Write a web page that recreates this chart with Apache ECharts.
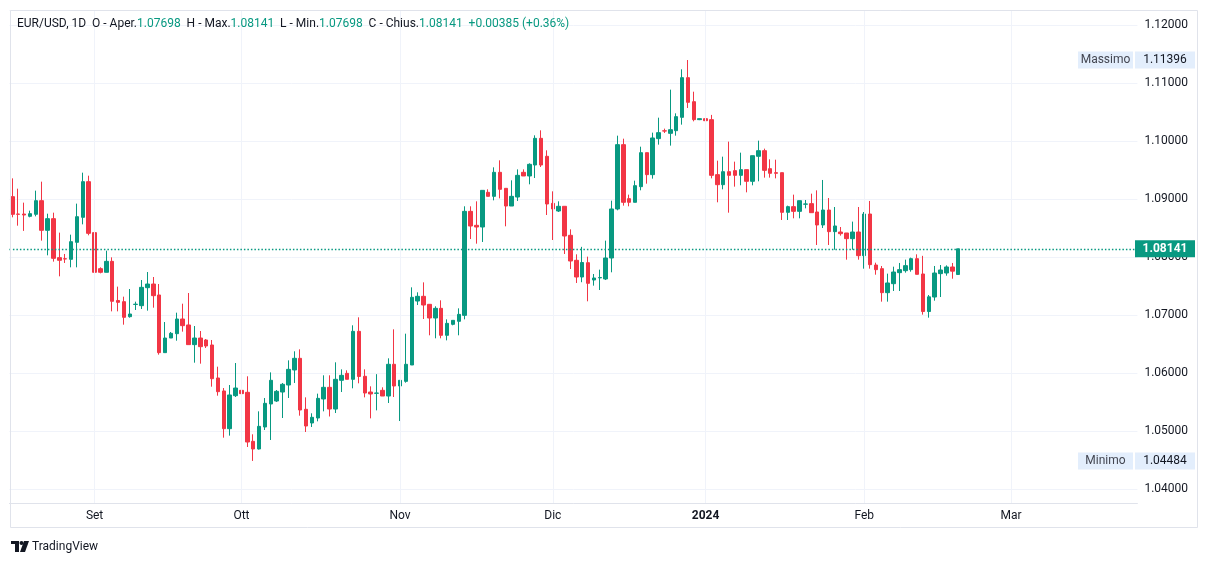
<!DOCTYPE html>
<html>
<head>
<meta charset="utf-8">
<title>EUR/USD 1D</title>
<script src="https://cdn.jsdelivr.net/npm/echarts@6/dist/echarts.min.js"></script>
<style>
  html, body { margin: 0; padding: 0; background: #fff; }
  #chart { width: 1209px; height: 564px; }
</style>
</head>
<body>
<div id="chart"></div>
<script>
// barre giornaliere (dom-ven, niente sabato) a partire dal 16 ago 2023
var firstDay = [2023, 7, 16];
var barCount = 192;
var monthNames = ['Gen', 'Feb', 'Mar', 'Apr', 'Mag', 'Giu', 'Lug', 'Ago', 'Set', 'Ott', 'Nov', 'Dic'];

var openVals = [
  1.0904, 1.08741, 1.08741, 1.08701, 1.08736, 1.08971, 1.0846, 1.08661, 1.07989, 1.0797,
  1.0796, 1.08253, 1.08684, 1.09299, 1.0842, 1.07799, 1.07736, 1.07925, 1.0725, 1.0723,
  1.06971, 1.07182, 1.07161, 1.07471, 1.07534, 1.07345, 1.06351, 1.06603, 1.06678, 1.06931,
  1.06828, 1.06489, 1.06603, 1.06569, 1.06483, 1.05914, 1.0569, 1.0504, 1.05609, 1.05701,
  1.05667, 1.04822, 1.0469, 1.05069, 1.05466, 1.05517, 1.05672, 1.05793, 1.06052, 1.06253,
  1.05374, 1.05138, 1.05224, 1.05552, 1.05753, 1.05379, 1.05874, 1.05994, 1.05891, 1.06718,
  1.05943, 1.05672, 1.0565, 1.05701, 1.05603, 1.0615, 1.05776, 1.05856, 1.06138, 1.07241,
  1.07322, 1.07184, 1.06948, 1.07115, 1.0665, 1.06839, 1.06891, 1.06994, 1.08787, 1.08546,
  1.08517, 1.09115, 1.09046, 1.0946, 1.09184, 1.08879, 1.09034, 1.0946, 1.09397, 1.09586,
  1.10046, 1.09736, 1.08925, 1.08793, 1.08874, 1.08374, 1.07943, 1.07655, 1.07902, 1.07603,
  1.0764, 1.07621, 1.07983, 1.08828, 1.09937, 1.09006, 1.08943, 1.09213, 1.09799, 1.0942,
  1.10041, 1.10175, 1.10132, 1.10178, 1.10408, 1.11092, 1.10678, 1.10368, 1.10385, 1.10368,
  1.0942, 1.09247, 1.09471, 1.09489, 1.09408, 1.09506, 1.09305, 1.09736, 1.09833, 1.09523,
  1.09454, 1.09454, 1.0877, 1.08868, 1.08787, 1.08911, 1.0892, 1.08776, 1.08552, 1.0881,
  1.08437, 1.08431, 1.08414, 1.08316, 1.08431, 1.08023, 1.08741, 1.07862, 1.07799, 1.07385,
  1.0754, 1.0773, 1.07764, 1.07782, 1.07971, 1.07707, 1.0706, 1.0731, 1.07713, 1.07724,
  1.07828, 1.07698
];
var closeVals = [
  1.08736, 1.08736, 1.08724, 1.08747, 1.08971, 1.0846, 1.08661, 1.07977, 1.07943, 1.07966,
  1.08264, 1.08695, 1.09299, 1.08408, 1.07736, 1.07736, 1.07925, 1.07236, 1.07218, 1.0696,
  1.07017, 1.07186, 1.07477, 1.07534, 1.07333, 1.06351, 1.06603, 1.06684, 1.06931, 1.06816,
  1.06489, 1.06603, 1.06454, 1.06466, 1.05902, 1.05678, 1.0504, 1.05621, 1.05741, 1.05644,
  1.0481, 1.0469, 1.0508, 1.05477, 1.05874, 1.05684, 1.05805, 1.06063, 1.06253, 1.05362,
  1.05086, 1.05236, 1.05563, 1.05753, 1.05379, 1.05891, 1.0596, 1.05891, 1.06718, 1.0594,
  1.05655, 1.05638, 1.05655, 1.05603, 1.0615, 1.05776, 1.05874, 1.0615, 1.07305, 1.07322,
  1.07172, 1.06948, 1.07115, 1.0665, 1.06856, 1.06908, 1.07011, 1.08787, 1.08534, 1.08517,
  1.09149, 1.09046, 1.0946, 1.09167, 1.08879, 1.09046, 1.09408, 1.09397, 1.09598, 1.10046,
  1.09586, 1.08914, 1.08828, 1.08874, 1.08362, 1.07931, 1.07655, 1.07905, 1.07546, 1.07638,
  1.07646, 1.07983, 1.08828, 1.09937, 1.08943, 1.08943, 1.0923, 1.09799, 1.0942, 1.10052,
  1.10144, 1.10172, 1.10195, 1.1042, 1.11092, 1.10667, 1.10368, 1.10385, 1.1035, 1.09408,
  1.09247, 1.09471, 1.09408, 1.09408, 1.09506, 1.09305, 1.09747, 1.09833, 1.09494, 1.09443,
  1.09443, 1.0877, 1.08868, 1.08787, 1.08971, 1.08914, 1.08764, 1.08552, 1.0881, 1.08437,
  1.08535, 1.08402, 1.08316, 1.08431, 1.08023, 1.08741, 1.07868, 1.07782, 1.07385, 1.07552,
  1.07741, 1.07782, 1.07851, 1.07971, 1.07701, 1.0706, 1.07313, 1.07724, 1.07776, 1.07828,
  1.07756, 1.08141
];
var lowVals = [
  1.08684, 1.0854, 1.0845, 1.08684, 1.08701, 1.08282, 1.08029, 1.0792, 1.07667, 1.07897,
  1.07822, 1.07822, 1.08563, 1.08374, 1.07724, 1.07718, 1.07736, 1.07063, 1.07063, 1.06833,
  1.06954, 1.07086, 1.07103, 1.07075, 1.07126, 1.06316, 1.06351, 1.06603, 1.06557, 1.06713,
  1.06489, 1.06178, 1.06161, 1.06431, 1.05764, 1.05609, 1.04885, 1.0492, 1.05586, 1.05575,
  1.04724, 1.04484, 1.0468, 1.05017, 1.04845, 1.055, 1.05224, 1.05569, 1.05828, 1.05264,
  1.04983, 1.05069, 1.05167, 1.05339, 1.0525, 1.0531, 1.05672, 1.05891, 1.05736, 1.05822,
  1.0558, 1.05218, 1.05356, 1.05603, 1.05483, 1.05586, 1.05172, 1.05833, 1.06138, 1.07172,
  1.06931, 1.0665, 1.06598, 1.06598, 1.06563, 1.06822, 1.0665, 1.06925, 1.0831, 1.0823,
  1.08259, 1.09046, 1.08977, 1.09011, 1.08529, 1.08879, 1.08966, 1.09397, 1.09253, 1.09362,
  1.09552, 1.08724, 1.08293, 1.08776, 1.08052, 1.07793, 1.07552, 1.07565, 1.07236, 1.07506,
  1.07431, 1.07603, 1.07736, 1.08805, 1.08885, 1.08874, 1.08943, 1.0915, 1.09264, 1.09351,
  1.09937, 1.10138, 1.0992, 1.10092, 1.10282, 1.10569, 1.10339, 1.1036, 1.0973, 1.09356,
  1.08943, 1.09167, 1.08764, 1.09213, 1.09236, 1.09115, 1.09236, 1.09305, 1.09368, 1.09368,
  1.09356, 1.08638, 1.08638, 1.08667, 1.08667, 1.08839, 1.08764, 1.08207, 1.085, 1.08207,
  1.08126, 1.08368, 1.07954, 1.08126, 1.07954, 1.07799, 1.07799, 1.07695, 1.0723, 1.0723,
  1.07414, 1.07414, 1.0773, 1.07747, 1.07701, 1.07006, 1.06954, 1.07247, 1.0731, 1.07678,
  1.07626, 1.07698
];
var highVals = [
  1.09356, 1.09178, 1.08937, 1.08799, 1.09144, 1.09299, 1.08747, 1.08764, 1.0842, 1.08052,
  1.08385, 1.0892, 1.09454, 1.09402, 1.08816, 1.07822, 1.08109, 1.07994, 1.07489, 1.07316,
  1.07448, 1.0723, 1.07603, 1.07741, 1.07655, 1.07534, 1.06879, 1.06707, 1.0704, 1.07195,
  1.07379, 1.0681, 1.06724, 1.06586, 1.06569, 1.06109, 1.05741, 1.05793, 1.06172, 1.05776,
  1.05943, 1.04943, 1.05339, 1.05569, 1.06011, 1.05707, 1.05828, 1.06218, 1.06374, 1.06408,
  1.0558, 1.05305, 1.05644, 1.0596, 1.0596, 1.06184, 1.06063, 1.06046, 1.06822, 1.0696,
  1.06063, 1.0577, 1.0598, 1.05753, 1.06253, 1.06753, 1.05874, 1.06678, 1.07477, 1.07391,
  1.07563, 1.07184, 1.0715, 1.07253, 1.06925, 1.06908, 1.07115, 1.08874, 1.08874, 1.0896,
  1.09149, 1.09167, 1.09546, 1.09667, 1.09184, 1.09322, 1.09511, 1.09511, 1.09615, 1.10098,
  1.10184, 1.09839, 1.09132, 1.0896, 1.08874, 1.08477, 1.08046, 1.08175, 1.08006, 1.07707,
  1.07782, 1.08282, 1.08971, 1.10092, 1.1004, 1.09075, 1.09316, 1.09902, 1.09799, 1.10144,
  1.10402, 1.10213, 1.10885, 1.10477, 1.11236, 1.11396, 1.1085, 1.1039, 1.11356, 1.1045,
  1.09661, 1.0973, 1.09989, 1.09644, 1.09799, 1.09506, 1.09747, 1.10006, 1.09868, 1.09684,
  1.09678, 1.09454, 1.08885, 1.09075, 1.08971, 1.08983, 1.09092, 1.09149, 1.09328, 1.09017,
  1.08862, 1.08517, 1.08414, 1.0861, 1.08862, 1.08776, 1.08966, 1.07902, 1.07845, 1.07713,
  1.07833, 1.07897, 1.07954, 1.07989, 1.08046, 1.0802, 1.07345, 1.07845, 1.07862, 1.07856,
  1.07897, 1.08141
];

var upColor = '#089981';
var downColor = '#f23645';
var textColor = '#131722';
var fontFamily = 'Roboto, "Noto Sans", sans-serif';

// categorie: tutti i giorni tranne il sabato
var dates = [];
var monthStarts = [];
var d = new Date(Date.UTC(firstDay[0], firstDay[1], firstDay[2]));
var prevMonth = -1;
while (dates.length < barCount) {
  if (d.getUTCDay() !== 6) {
    if (prevMonth !== -1 && d.getUTCMonth() !== prevMonth) monthStarts.push(dates.length);
    prevMonth = d.getUTCMonth();
    dates.push(d.toISOString().slice(0, 10));
  }
  d.setUTCDate(d.getUTCDate() + 1);
}

var candleData = openVals.map(function (o, i) {
  return [o, closeVals[i], lowVals[i], highVals[i]];
});

var last = openVals.length - 1;
var lastClose = closeVals[last];
var change = lastClose - closeVals[last - 1];
var changePct = change / closeVals[last - 1] * 100;
var maxHigh = Math.max.apply(null, highVals);
var minLow = Math.min.apply(null, lowVals);

var chart = echarts.init(document.getElementById('chart'));

var option = {
  animation: false,
  backgroundColor: '#ffffff',
  textStyle: { fontFamily: fontFamily },
  grid: { left: 9.4, right: 71.6, top: 10, bottom: 61 },
  xAxis: {
    type: 'category',
    data: dates,
    boundaryGap: true,
    axisLine: { lineStyle: { color: '#e0e3eb' } },
    axisTick: { show: false },
    splitLine: { show: false },
    axisLabel: {
      color: textColor,
      fontSize: 12,
      margin: 7,
      interval: function (i) { return monthStarts.indexOf(i) >= 0; },
      formatter: function (val) {
        var m = parseInt(val.slice(5, 7), 10) - 1;
        if (m === 0) return '{y|' + val.slice(0, 4) + '}';
        return monthNames[m];
      },
      rich: { y: { fontWeight: 'bold', fontSize: 12, color: textColor } }
    }
  },
  yAxis: {
    type: 'value',
    position: 'right',
    scale: true,
    min: 1.037586,
    max: 1.122586,
    splitNumber: 9,
    minInterval: 0.01,
    maxInterval: 0.01,
    axisLine: { show: false },
    axisTick: { show: false },
    splitLine: { lineStyle: { color: '#f0f3fa' } },
    axisLabel: {
      color: textColor,
      fontSize: 12,
      margin: 7,
      showMinLabel: false,
      showMaxLabel: false,
      formatter: function (v) {
        if (Math.abs(v * 100 - Math.round(v * 100)) > 1e-6) return '';
        return v.toFixed(5);
      }
    }
  },
  series: [
    {
      // solo per le linee verticali dei mesi
      type: 'line',
      z: 1,
      silent: true,
      data: [],
      markLine: {
        silent: true,
        symbol: ['none', 'none'],
        label: { show: false },
        lineStyle: { color: '#f0f3fa', type: 'solid', width: 1 },
        data: monthStarts.map(function (i) { return { xAxis: dates[i] }; })
      }
    },
    {
      type: 'candlestick',
      z: 3,
      data: candleData,
      barWidth: 4,
      itemStyle: {
        color: upColor,
        color0: downColor,
        borderColor: upColor,
        borderColor0: downColor,
        borderWidth: 1
      },
      markLine: {
        silent: true,
        precision: 5,
        symbol: ['none', 'none'],
        label: { show: false },
        lineStyle: { color: upColor, type: [1.5, 2], width: 1.4, opacity: 1 },
        data: [{ yAxis: lastClose }]
      }
    }
  ]
};
chart.setOption(option);

function priceBox(y, label, value, bg, fg, bold) {
  var els = [];
  if (label) {
    els.push({
      type: 'rect', z: 100,
      shape: { x: 1078, y: y - 8.5, width: 55, height: 17 },
      style: { fill: bg }
    });
    els.push({
      type: 'text', z: 101,
      x: 1105.5, y: y,
      style: { text: label, fill: '#434651', font: '12px ' + fontFamily, align: 'center', verticalAlign: 'middle' }
    });
  }
  els.push({
    type: 'rect', z: 100,
    shape: { x: 1135, y: y - 8.5, width: 60, height: 17 },
    style: { fill: bg }
  });
  els.push({
    type: 'text', z: 101,
    x: 1165, y: y,
    style: { text: value, fill: fg, font: (bold ? 'bold ' : '') + '12px ' + fontFamily, align: 'center', verticalAlign: 'middle' }
  });
  return els;
}

var yMaxPx = chart.convertToPixel({ yAxisIndex: 0 }, maxHigh);
var yMinPx = chart.convertToPixel({ yAxisIndex: 0 }, minLow);
var yLastPx = chart.convertToPixel({ yAxisIndex: 0 }, lastClose);

var g = [];
g.push({
  type: 'rect', z: 90,
  shape: { x: 10.5, y: 10.5, width: 1187, height: 517 },
  style: { fill: 'none', stroke: '#e0e3eb', lineWidth: 1 }
});
g.push({
  type: 'text', z: 101,
  x: 17, y: 24,
  style: {
    text: '{k|EUR/USD, 1D  O - Aper.}{v|' + openVals[last].toFixed(5) + '}' +
          '{k|  H - Max.}{v|' + highVals[last].toFixed(5) + '}' +
          '{k|  L - Min.}{v|' + lowVals[last].toFixed(5) + '}' +
          '{k|  C - Chius.}{v|' + lastClose.toFixed(5) + '}' +
          '{v|  ' + (change >= 0 ? '+' : '') + change.toFixed(5) + ' (' + (change >= 0 ? '+' : '') + changePct.toFixed(2) + '%)}',
    verticalAlign: 'middle',
    rich: {
      k: { fill: textColor, fontSize: 12, fontFamily: fontFamily },
      v: { fill: upColor, fontSize: 12, fontFamily: fontFamily }
    }
  }
});
g = g.concat(priceBox(yMaxPx, 'Massimo', maxHigh.toFixed(5), '#e3eefc', textColor, false));
g = g.concat(priceBox(yMinPx, 'Minimo', minLow.toFixed(5), '#e3eefc', textColor, false));
g = g.concat(priceBox(yLastPx, null, lastClose.toFixed(5), upColor, '#ffffff', true));

// logo TradingView
g.push({ type: 'rect', z: 100, shape: { x: 11, y: 541, width: 8, height: 3 }, style: { fill: textColor } });
g.push({ type: 'rect', z: 100, shape: { x: 15, y: 541, width: 4, height: 11 }, style: { fill: textColor } });
g.push({ type: 'circle', z: 100, shape: { cx: 21.5, cy: 543, r: 2 }, style: { fill: textColor } });
g.push({ type: 'polygon', z: 100, shape: { points: [[24, 541], [29, 541], [25, 552], [20, 552]] }, style: { fill: textColor } });
g.push({
  type: 'text', z: 100, x: 32, y: 547,
  style: { text: 'TradingView', fill: textColor, font: '12px ' + fontFamily, verticalAlign: 'middle' }
});

chart.setOption({ graphic: g });
</script>
</body>
</html>
